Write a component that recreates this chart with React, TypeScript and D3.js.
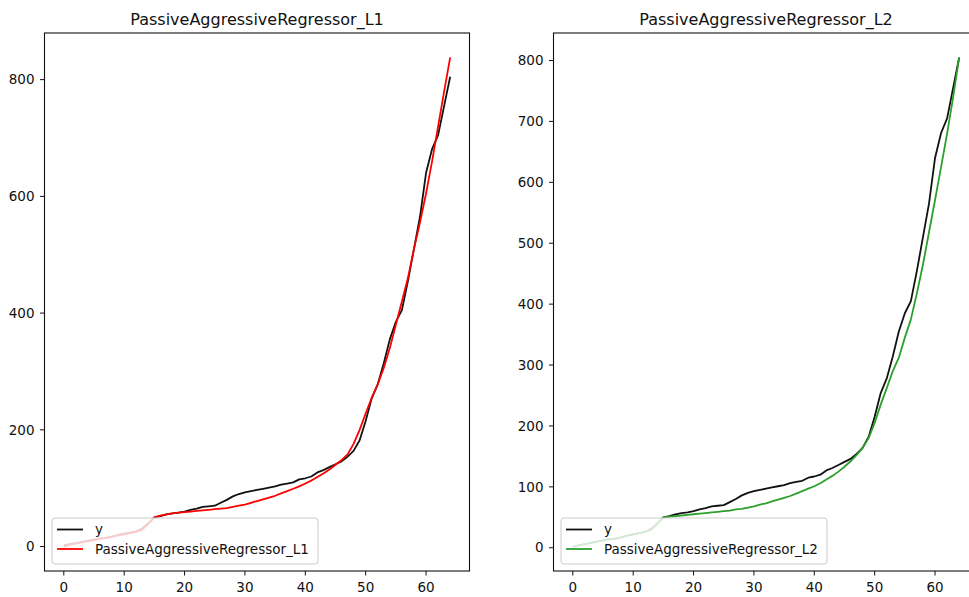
import * as d3 from "d3";

// values, index = x position 0..64
const actualY = [
  2, 4, 6, 8, 10, 12, 14, 15, 17, 20,
  22, 24, 26, 31, 40, 50, 52, 55, 57, 58,
  60, 63, 65, 68, 69, 70, 75, 80, 86, 90,
  93, 95, 97, 99, 101, 103, 106, 108, 110, 115,
  117, 120, 127, 131, 136, 141, 146, 154, 164, 182,
  215, 254, 278, 314, 355, 385, 405, 455, 510, 565,
  640, 681, 705, 755, 805,
];

const predL1 = [
  0, 3, 5, 7, 9, 11, 13, 15, 17, 19,
  21, 23, 25, 29, 39, 50, 53, 55, 57, 58,
  59, 60, 61, 62, 63, 64, 65, 66, 68, 70,
  72, 75, 78, 81, 84, 87, 91, 95, 99, 103,
  108, 113, 119, 125, 132, 140, 148, 158, 176, 200,
  228, 255, 278, 306, 340, 380, 420, 460, 510, 555,
  605, 660, 720, 780, 838,
];

const predL2 = [
  2, 4, 6, 8, 10, 12, 14, 15, 17, 20,
  22, 24, 26, 30, 39, 50, 51, 52, 53, 54,
  55, 56, 57, 58, 59, 60, 61, 63, 64, 66,
  68, 71, 73, 76, 79, 82, 85, 89, 93, 97,
  101, 106, 112, 118, 125, 133, 142, 152, 164, 180,
  205, 235, 262, 290, 312, 345, 375, 418, 465, 518,
  571, 625, 680, 740, 805,
];

const xTicks = [0, 10, 20, 30, 40, 50, 60];
const yTicksL1 = [0, 200, 400, 600, 800];
const yTicksL2 = [0, 100, 200, 300, 400, 500, 600, 700, 800];

const W = 969;
const H = 597;
const TOP = 33;
const BOTTOM = 571;
const AX_W = 425;
const FONT = "DejaVu Sans, sans-serif";
const TICK_FS = 13.5;

function padded(lo: number, hi: number): [number, number] {
  const m = (hi - lo) * 0.05;
  return [lo - m, hi + m];
}

interface PanelProps {
  id: string;
  left: number;
  title: string;
  pred: number[];
  color: string;
  yTicks: number[];
}

function Panel({ id, left, title, pred, color, yTicks }: PanelProps) {
  const n = actualY.length;
  const x = d3
    .scaleLinear()
    .domain(padded(0, n - 1))
    .range([left, left + AX_W]);
  const all = actualY.concat(pred);
  const y = d3
    .scaleLinear()
    .domain(padded(d3.min(all)!, d3.max(all)!))
    .range([BOTTOM, TOP]);

  const line = d3
    .line<number>()
    .x((_, i) => x(i))
    .y((d) => y(d));

  // legend box (lower left, like loc="best")
  const lgX = left + 7.5;
  const lgW = 266;
  const lgH = 46;
  const lgY = BOTTOM - 7 - lgH;

  return (
    <g>
      <defs>
        <clipPath id={`clip-${id}`}>
          <rect x={left} y={TOP} width={AX_W} height={BOTTOM - TOP} />
        </clipPath>
      </defs>
      <text
        x={left + AX_W / 2}
        y={25}
        textAnchor="middle"
        fontSize={16}
        fill="#111"
      >
        {title}
      </text>

      <g clipPath={`url(#clip-${id})`}>
        <path
          d={line(actualY)!}
          fill="none"
          stroke="#111"
          strokeWidth={1.8}
          strokeLinejoin="round"
        />
        <path
          d={line(pred)!}
          fill="none"
          stroke={color}
          strokeWidth={1.8}
          strokeLinejoin="round"
        />
      </g>

      {/* spines */}
      <rect
        x={left}
        y={TOP}
        width={AX_W}
        height={BOTTOM - TOP}
        fill="none"
        stroke="#111"
        strokeWidth={1.1}
      />

      {/* x ticks */}
      {xTicks.map((t) => (
        <g key={t} transform={`translate(${x(t)},${BOTTOM})`}>
          <line y1={0} y2={4.5} stroke="#111" strokeWidth={1} />
          <text y={21} textAnchor="middle" fontSize={TICK_FS} fill="#111">
            {t}
          </text>
        </g>
      ))}

      {/* y ticks */}
      {yTicks.map((t) => (
        <g key={t} transform={`translate(${left},${y(t)})`}>
          <line x1={0} x2={-4.5} stroke="#111" strokeWidth={1} />
          <text
            x={-10}
            dy="0.35em"
            textAnchor="end"
            fontSize={TICK_FS}
            fill="#111"
          >
            {t}
          </text>
        </g>
      ))}

      {/* legend */}
      <rect
        x={lgX}
        y={lgY}
        width={lgW}
        height={lgH}
        rx={3}
        fill="#fff"
        fillOpacity={0.8}
        stroke="#cccccc"
        strokeWidth={1}
      />
      <line
        x1={lgX + 5}
        x2={lgX + 31}
        y1={lgY + 11.5}
        y2={lgY + 11.5}
        stroke="#111"
        strokeWidth={1.8}
      />
      <text
        x={lgX + 43}
        y={lgY + 11.5}
        dy="0.35em"
        fontSize={TICK_FS}
        fill="#111"
      >
        y
      </text>
      <line
        x1={lgX + 5}
        x2={lgX + 31}
        y1={lgY + 31}
        y2={lgY + 31}
        stroke={color}
        strokeWidth={1.8}
      />
      <text
        x={lgX + 43}
        y={lgY + 31}
        dy="0.35em"
        fontSize={TICK_FS}
        fill="#111"
      >
        {title}
      </text>
    </g>
  );
}

export default function App() {
  return (
    <div style={{ position: "fixed", left: 0, top: 0 }}>
      <svg
        width={W}
        height={H}
        viewBox={`0 0 ${W} ${H}`}
        style={{ display: "block", background: "#fff", fontFamily: FONT }}
      >
        <Panel
          id="l1"
          left={44.5}
          title="PassiveAggressiveRegressor_L1"
          pred={predL1}
          color="#ff0000"
          yTicks={yTicksL1}
        />
        <Panel
          id="l2"
          left={553.5}
          title="PassiveAggressiveRegressor_L2"
          pred={predL2}
          color="#2ca02c"
          yTicks={yTicksL2}
        />
      </svg>
    </div>
  );
}
